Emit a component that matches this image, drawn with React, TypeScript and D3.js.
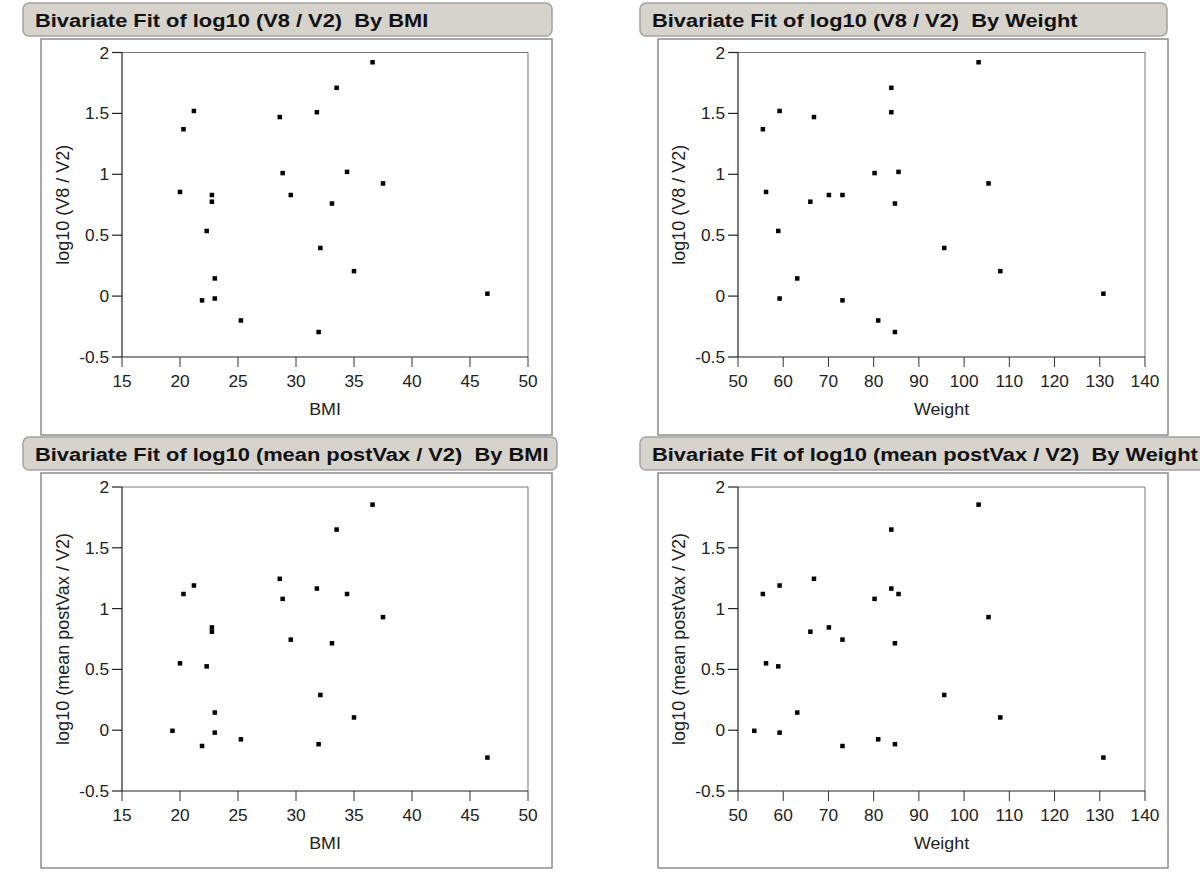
import React from 'react';
import * as d3 from 'd3';

// subjects
const bmi = [36.6, 33.5, 21.2, 31.8, 28.6, 20.3, 28.85, 34.4, 37.5, 20.0, 22.75, 29.55, 22.75, 33.1, 22.3, 32.1, 35.0, 23.0, 46.5, 21.9, 23.0, 25.25, 31.95, 19.35];
const weight = [103.2, 83.9, 59.2, 83.9, 66.8, 55.5, 80.2, 85.5, 105.4, 56.2, 70.1, 73.1, 66.0, 84.7, 58.9, 95.6, 108.0, 63.1, 130.8, 73.1, 59.2, 81.0, 84.7, 53.6];
const v8 = [1.92, 1.71, 1.52, 1.51, 1.47, 1.37, 1.01, 1.02, 0.925, 0.855, 0.83, 0.83, 0.775, 0.76, 0.535, 0.395, 0.205, 0.145, 0.02, -0.035, -0.02, -0.2, -0.295, null];
const postVax = [1.855, 1.65, 1.19, 1.165, 1.245, 1.12, 1.08, 1.12, 0.93, 0.55, 0.845, 0.745, 0.81, 0.715, 0.525, 0.29, 0.105, 0.145, -0.225, -0.13, -0.02, -0.075, -0.115, -0.005];

const yTicks = [-0.5, 0, 0.5, 1, 1.5, 2];
const bmiTicks = [15, 20, 25, 30, 35, 40, 45, 50];
const weightTicks = [50, 60, 70, 80, 90, 100, 110, 120, 130, 140];

const FONT = '"Liberation Sans", Arial, sans-serif';
const SX = 1.15; // the screenshot is stretched sideways a little

type PanelProps = {
  title: string;
  col: number;
  row: number;
  xs: number[];
  ys: (number | null)[];
  xDomain: [number, number];
  xTicks: number[];
  xLabel: string;
  yLabel: string;
  boxRight: number;
};

function Panel({ title, col, row, xs, ys, xDomain, xTicks, xLabel, yLabel, boxRight }: PanelProps) {
  const fx = col === 0 ? 41 : 658;
  const fr = col === 0 ? 552 : 1168;
  const ft = row === 0 ? 39 : 473;
  const fb = row === 0 ? 435 : 868;
  const bx = col === 0 ? 23 : 640;
  const by = row === 0 ? 3 : 437;

  const left = col === 0 ? 122 : 738;
  const right = col === 0 ? 528 : 1145;
  const top = row === 0 ? 52.5 : 487;
  const bottom = row === 0 ? 357 : 791;

  const x = d3.scaleLinear().domain(xDomain).range([left, right]);
  const y = d3.scaleLinear().domain([-0.5, 2]).range([bottom, top]);

  const pts = xs.map((v, i) => ({ x: v, y: ys[i] })).filter((d) => d.y !== null) as { x: number; y: number }[];

  return (
    <g>
      {/* frame */}
      <rect x={fx} y={ft} width={fr - fx} height={fb - ft} fill="#fff" stroke="#8c8c8c" strokeWidth={1.5} />
      {/* title bar */}
      <rect x={bx} y={by} width={boxRight - bx} height={33} rx={6} fill="#d6d3cc" stroke="#a3a3a3" strokeWidth={1.5} />
      <text
        transform={`translate(${bx + 12},${by + 24}) scale(${SX},1)`}
        fontFamily={FONT}
        fontWeight="bold"
        fontSize={19}
        fill="#111"
        style={{ whiteSpace: 'pre' }}
      >
        {title}
      </text>

      {/* plot box */}
      <line x1={left} y1={top} x2={right} y2={top} stroke="#777" strokeWidth={1} />
      <line x1={right} y1={top} x2={right} y2={bottom} stroke="#777" strokeWidth={1} />
      <line x1={left} y1={top} x2={left} y2={bottom} stroke="#222" strokeWidth={1.2} />
      <line x1={left} y1={bottom} x2={right} y2={bottom} stroke="#222" strokeWidth={1.2} />

      {yTicks.map((t) => (
        <g key={'y' + t}>
          <line x1={left - 10} x2={left} y1={y(t)} y2={y(t)} stroke="#222" strokeWidth={1.2} />
          <text
            transform={`translate(${left - 13},${y(t) + 6}) scale(1.08,1)`}
            textAnchor="end"
            fontFamily={FONT}
            fontSize={16}
            fill="#222"
          >
            {String(t)}
          </text>
        </g>
      ))}
      {xTicks.map((t) => (
        <g key={'x' + t}>
          <line x1={x(t)} x2={x(t)} y1={bottom} y2={bottom + 10} stroke="#333" strokeWidth={1} />
          <text
            transform={`translate(${x(t)},${bottom + 30}) scale(1.08,1)`}
            textAnchor="middle"
            fontFamily={FONT}
            fontSize={16}
            fill="#222"
          >
            {t}
          </text>
        </g>
      ))}

      <text
        transform={`translate(${(left + right) / 2},${bottom + 58}) scale(1.05,1)`}
        textAnchor="middle"
        fontFamily={FONT}
        fontSize={17}
        fill="#222"
      >
        {xLabel}
      </text>
      <text
        transform={`translate(${left - 53},${(top + bottom) / 2}) rotate(-90)`}
        textAnchor="middle"
        fontFamily={FONT}
        fontSize={18}
        fill="#222"
      >
        {yLabel}
      </text>

      {pts.map((d, i) => (
        <rect key={i} x={x(d.x) - 2.25} y={y(d.y) - 2.25} width={4.5} height={4.5} fill="#000" />
      ))}
    </g>
  );
}

export default function App() {
  return (
    <svg width={1200} height={875} style={{ position: 'absolute', left: 0, top: 0, background: '#fff' }}>
      <rect width={1200} height={875} fill="#fff" />
      <Panel title="Bivariate Fit of log10 (V8 / V2)  By BMI" col={0} row={0} xs={bmi} ys={v8}
        xDomain={[15, 50]} xTicks={bmiTicks} xLabel="BMI" yLabel="log10 (V8 / V2)" boxRight={552} />
      <Panel title="Bivariate Fit of log10 (V8 / V2)  By Weight" col={1} row={0} xs={weight} ys={v8}
        xDomain={[50, 140]} xTicks={weightTicks} xLabel="Weight" yLabel="log10 (V8 / V2)" boxRight={1167} />
      <Panel title="Bivariate Fit of log10 (mean postVax / V2)  By BMI" col={0} row={1} xs={bmi} ys={postVax}
        xDomain={[15, 50]} xTicks={bmiTicks} xLabel="BMI" yLabel="log10 (mean postVax / V2)" boxRight={557} />
      <Panel title="Bivariate Fit of log10 (mean postVax / V2)  By Weight" col={1} row={1} xs={weight} ys={postVax}
        xDomain={[50, 140]} xTicks={weightTicks} xLabel="Weight" yLabel="log10 (mean postVax / V2)" boxRight={1215} />
    </svg>
  );
}
